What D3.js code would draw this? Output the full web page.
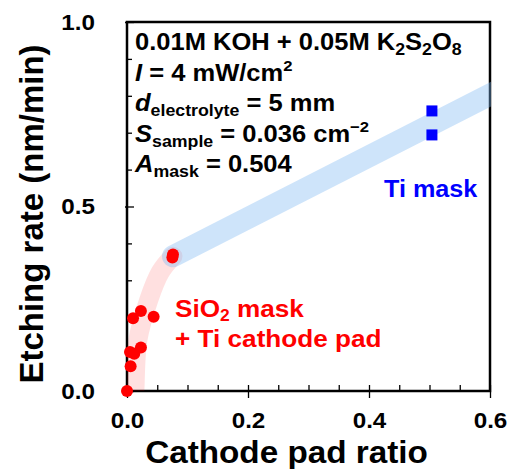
<!DOCTYPE html>
<html>
<head>
<meta charset="utf-8">
<script src="https://cdn.jsdelivr.net/npm/d3@7"></script>
<style>
  html, body { margin: 0; padding: 0; background: #fff; }
  svg { display: block; font-family: "Liberation Sans", Arial, sans-serif; font-weight: bold; }
</style>
</head>
<body>
<svg id="chart" width="508" height="469"></svg>
<script>
// SiO2 mask + Ti cathode pad samples
const sio2Ratio = [0.000, 0.006, 0.005, 0.012, 0.023, 0.010, 0.023, 0.044, 0.075, 0.076];
const sio2Rate  = [0.000, 0.067, 0.106, 0.101, 0.118, 0.197, 0.217, 0.201, 0.362, 0.370];

// Ti mask samples
const tiRatio = [0.504, 0.504];
const tiRate  = [0.759, 0.694];

// Trend guides drawn as wide translucent bands
const sio2TrendRatio = [0.012, 0.013, 0.018, 0.036, 0.055, 0.076];
const sio2TrendRate  = [-0.03, 0.000, 0.138, 0.247, 0.322, 0.365];
const tiTrendRatio = [0.076, 0.620];
const tiTrendRate  = [0.365, 0.820];

// Axis ticks
const xMajorTicks = [0, 0.2, 0.4, 0.6];
const xMinorTicks = [0.05, 0.1, 0.15, 0.25, 0.3, 0.35, 0.45, 0.5, 0.55];
const yMajorTicks = [0, 0.5, 1.0];
const yMinorTicks = [0.1, 0.2, 0.3, 0.4, 0.6, 0.7, 0.8, 0.9];

const svg = d3.select("#chart");
const plotL = 127, plotR = 490, plotT = 22, plotB = 391;
const tickStretch = 1.1;

const x = d3.scaleLinear().domain([0, 0.6]).range([plotL, plotR]);
const y = d3.scaleLinear().domain([0, 1.0]).range([plotB, plotT]);

const fmt = d3.format(".1f");

// plot frame
svg.append("rect")
  .attr("x", plotL).attr("y", plotT)
  .attr("width", plotR - plotL).attr("height", plotB - plotT)
  .attr("fill", "none").attr("stroke", "#000").attr("stroke-width", 2.5);

// axes
function styleAxis(g) {
  g.select(".domain").remove();
  g.selectAll(".tick line").attr("stroke", "#000").attr("stroke-width", 1.3);
}
function styleLabels(g) {
  g.selectAll(".tick text")
    .attr("font-family", "Liberation Sans, Arial, sans-serif")
    .attr("font-weight", "bold").attr("font-size", 22).attr("fill", "#000");
}

// x axis: minor ticks inward, major ticks crossing
svg.append("g").attr("transform", `translate(0,${plotB})`)
  .call(d3.axisBottom(x).tickValues(xMinorTicks).tickSize(-6).tickFormat(""))
  .call(styleAxis);
svg.append("g").attr("transform", `translate(0,${plotB})`)
  .call(d3.axisBottom(x).tickValues(xMajorTicks).tickSize(-6).tickFormat(""))
  .call(styleAxis);
svg.append("g").attr("transform", `translate(0,${plotB})`)
  .call(d3.axisBottom(x).tickValues(xMajorTicks).tickSize(7).tickPadding(14).tickFormat(fmt))
  .call(styleAxis).call(styleLabels)
  .selectAll(".tick text").attr("transform", `scale(${tickStretch},1)`);

// y axis: minor ticks inward, major ticks slightly crossing
svg.append("g").attr("transform", `translate(${plotL},0)`)
  .call(d3.axisLeft(y).tickValues(yMinorTicks).tickSize(-5).tickFormat(""))
  .call(styleAxis);
svg.append("g").attr("transform", `translate(${plotL},0)`)
  .call(d3.axisLeft(y).tickValues(yMajorTicks).tickSize(-7).tickFormat(""))
  .call(styleAxis);
svg.append("g").attr("transform", `translate(${plotL},0)`)
  .call(d3.axisLeft(y).tickValues(yMajorTicks).tickSize(2).tickPadding(30).tickFormat(fmt))
  .call(styleAxis).call(styleLabels)
  .selectAll(".tick text")
  .attr("x", -32 / tickStretch)
  .attr("transform", `scale(${tickStretch},1)`);

// axis titles
svg.append("text")
  .attr("transform", `translate(${(plotL + plotR) / 2 - 22},463) scale(1.04,1)`)
  .attr("text-anchor", "middle").attr("font-size", 32).attr("fill", "#000")
  .text("Cathode pad ratio");
svg.append("text")
  .attr("transform", "translate(43,214) rotate(-90)")
  .attr("text-anchor", "middle").attr("font-size", 33).attr("fill", "#000")
  .text("Etching rate (nm/min)");

// trend bands
svg.append("clipPath").attr("id", "plotClip")
  .append("rect").attr("x", plotL).attr("y", plotT)
  .attr("width", plotR - plotL + 1).attr("height", plotB - plotT);

const bandLine = d3.line().x(d => x(d[0])).y(d => y(d[1])).curve(d3.curveCatmullRom.alpha(0.5));
const bands = svg.append("g").attr("clip-path", "url(#plotClip)");
bands.append("path")
  .datum(d3.zip(sio2TrendRatio, sio2TrendRate))
  .attr("d", bandLine)
  .attr("fill", "none").attr("stroke", "rgb(255,0,0)").attr("stroke-opacity", 0.12)
  .attr("stroke-width", 19).attr("stroke-linecap", "round").attr("stroke-linejoin", "round");
bands.append("path")
  .datum(d3.zip(tiTrendRatio, tiTrendRate))
  .attr("d", bandLine)
  .attr("fill", "none").attr("stroke", "rgb(125,185,242)").attr("stroke-opacity", 0.38)
  .attr("stroke-width", 22).attr("stroke-linecap", "round");

// SiO2 mask points
svg.append("g").selectAll("circle")
  .data(d3.zip(sio2Ratio, sio2Rate))
  .join("circle")
  .attr("cx", d => x(d[0])).attr("cy", d => y(d[1]))
  .attr("r", 6).attr("fill", "#ff0000");

// Ti mask points
const sq = 11;
svg.append("g").selectAll("rect")
  .data(d3.zip(tiRatio, tiRate))
  .join("rect")
  .attr("x", d => x(d[0]) - sq / 2).attr("y", d => y(d[1]) - sq / 2)
  .attr("width", sq).attr("height", sq).attr("fill", "#0000ff");

// rich text with italic / subscript / superscript parts, optionally widened
function richText(parent, tx, ty, parts, opt) {
  const size = opt.size, subSize = opt.subSize, supSize = opt.supSize;
  const g = parent.append("g").attr("transform", `translate(${tx},${ty}) scale(${opt.sx || 1},1)`);
  const t = g.append("text").attr("x", 0).attr("y", 0)
    .attr("font-size", size).attr("fill", opt.color || "#000");
  let shift = 0;
  parts.forEach(([txt, kind]) => {
    let target = 0, fs = size, italic = false;
    if (kind === "sub") { target = opt.subShift; fs = subSize; }
    else if (kind === "sup") { target = -opt.supShift; fs = supSize; }
    else if (kind === "i") { italic = true; }
    const ts = t.append("tspan").attr("font-size", fs).attr("dy", target - shift).text(txt);
    if (italic) ts.attr("font-style", "italic");
    shift = target;
  });
  return t;
}

const boxOpt = { size: 23, subSize: 16, supSize: 15, subShift: 5, supShift: 10, sx: 1.11 };
const boxLines = [
  [["0.01M KOH + 0.05M K", "n"], ["2", "sub"], ["S", "n"], ["2", "sub"], ["O", "n"], ["8", "sub"]],
  [["I", "i"], [" = 4 mW/cm", "n"], ["2", "sup"]],
  [["d", "i"], ["electrolyte", "sub"], [" = 5 mm", "n"]],
  [["S", "i"], ["sample", "sub"], [" = 0.036 cm", "n"], ["\u22122", "sup"]],
  [["A", "i"], ["mask", "sub"], [" = 0.504", "n"]]
];
const boxBase = [50, 81, 111, 142, 172];
boxLines.forEach((parts, i) => richText(svg, 135, boxBase[i], parts, boxOpt));

// series labels
richText(svg, 384, 197, [["Ti mask", "n"]], { size: 24, color: "#0000ff", sx: 1.05 });
const redOpt = { size: 24, subSize: 16, supSize: 15, subShift: 4, supShift: 10, color: "#ff0000", sx: 1.09 };
richText(svg, 175, 317, [["SiO", "n"], ["2", "sub"], [" mask", "n"]], redOpt);
richText(svg, 175, 347, [["+ Ti cathode pad", "n"]], redOpt);
</script>
</body>
</html>
